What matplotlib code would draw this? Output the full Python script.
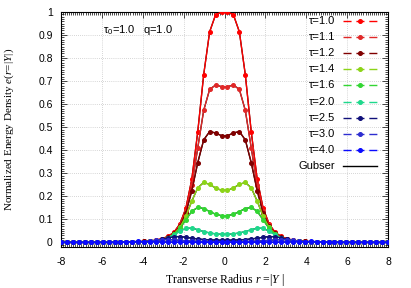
import numpy as np
import matplotlib.pyplot as plt
from matplotlib.ticker import MultipleLocator

plt.rcParams['font.family'] = ['Liberation Sans', 'DejaVu Sans']
plt.rcParams['mathtext.fontset'] = 'custom'
plt.rcParams['mathtext.rm'] = 'Liberation Serif'
plt.rcParams['mathtext.it'] = 'Liberation Serif:italic'
plt.rcParams['mathtext.sf'] = 'Liberation Sans'
plt.rcParams['axes.unicode_minus'] = False

# transverse lattice sites (56 points from -8 to 8)
r = np.linspace(-8, 8, 56)

tau_labels = ['τ=1.0', 'τ=1.1', 'τ=1.2', 'τ=1.4', 'τ=1.6', 'τ=2.0', 'τ=2.5', 'τ=3.0', 'τ=4.0']
colors = ['#ff0000', '#e02828', '#800000', '#8cd418', '#33d633', '#1ed88c', '#10107a', '#2d2dd0', '#0a0aff']

# left to right
e_10 = [0, 0, 0, 0, 0, 0, 0, 0, .001, .001, .001, .002, .002, .003, .004, .006, .010, .016, .026, .044, .080, .148, .274, .480, .728, .914, .988, 1.0,
        1.0, .988, .914, .728, .480, .274, .148, .080, .044, .026, .016, .010, .006, .004, .003, .002, .002, .001, .001, .001, 0, 0, 0, 0, 0, 0, 0, 0]
e_11 = [0, 0, 0, 0, 0, 0, 0, 0, 0, .001, .001, .001, .002, .003, .004, .006, .009, .014, .024, .041, .074, .137, .248, .410, .573, .664, .683, .676,
        .676, .683, .664, .573, .410, .248, .137, .074, .041, .024, .014, .009, .006, .004, .003, .002, .001, .001, .001, 0, 0, 0, 0, 0, 0, 0, 0, 0]
e_12 = [0, 0, 0, 0, 0, 0, 0, 0, 0, 0, .001, .001, .002, .002, .004, .005, .008, .013, .022, .039, .070, .128, .224, .346, .445, .481, .475, .463,
        .463, .475, .481, .445, .346, .224, .128, .070, .039, .022, .013, .008, .005, .004, .002, .002, .001, .001, 0, 0, 0, 0, 0, 0, 0, 0, 0, 0]
e_14 = [0, 0, 0, 0, 0, 0, 0, 0, 0, 0, .001, .001, .002, .002, .003, .005, .008, .012, .021, .036, .065, .113, .179, .237, .260, .252, .236, .226,
        .226, .236, .252, .260, .237, .179, .113, .065, .036, .021, .012, .008, .005, .003, .002, .002, .001, .001, 0, 0, 0, 0, 0, 0, 0, 0, 0, 0]
e_16 = [0, 0, 0, 0, 0, 0, 0, 0, 0, 0, 0, .001, .001, .002, .003, .004, .007, .012, .020, .035, .061, .098, .135, .152, .147, .134, .122, .116,
        .116, .122, .134, .147, .152, .135, .098, .061, .035, .020, .012, .007, .004, .003, .002, .001, .001, 0, 0, 0, 0, 0, 0, 0, 0, 0, 0, 0]
e_20 = [0, 0, 0, 0, 0, 0, 0, 0, 0, 0, 0, .001, .001, .002, .003, .004, .007, .012, .020, .033, .049, .061, .062, .055, .047, .041, .037, .035,
        .035, .037, .041, .047, .055, .062, .061, .049, .033, .020, .012, .007, .004, .003, .002, .001, .001, 0, 0, 0, 0, 0, 0, 0, 0, 0, 0, 0]
e_25 = [0, 0, 0, 0, 0, 0, 0, 0, 0, 0, 0, .0008, .0012, .0018, .0029, .0047, .0079, .0130, .0195, .0246, .0253, .0222, .0182, .0149, .0125, .0109, .0100, .0096,
        .0096, .0100, .0109, .0125, .0149, .0182, .0222, .0253, .0246, .0195, .0130, .0079, .0047, .0029, .0018, .0012, .0008, 0, 0, 0, 0, 0, 0, 0, 0, 0, 0, 0]
e_30 = [0, 0, 0, 0, 0, 0, 0, 0, 0, 0, .0006, .0009, .0014, .0022, .0036, .0058, .0089, .0116, .0123, .0109, .0088, .0069, .0056, .0046, .0040, .0035, .0033, .0032,
        .0032, .0033, .0035, .0040, .0046, .0056, .0069, .0088, .0109, .0123, .0116, .0089, .0058, .0036, .0022, .0014, .0009, .0006, 0, 0, 0, 0, 0, 0, 0, 0, 0, 0]
e_40 = [0, 0, 0, 0, 0, 0, .0002, .0004, .0006, .0010, .0015, .0024, .0034, .0039, .0037, .0030, .0023, .0018, .0013, .0011, .0009, .0008, .0007, .0006, .0006, .0006, .0005, .0005,
        .0005, .0005, .0006, .0006, .0006, .0007, .0008, .0009, .0011, .0013, .0018, .0023, .0030, .0037, .0039, .0034, .0024, .0015, .0010, .0006, .0004, .0002, 0, 0, 0, 0, 0, 0]
series = [e_10, e_11, e_12, e_14, e_16, e_20, e_25, e_30, e_40]

fig = plt.figure(figsize=(4.11, 2.88), dpi=100)
ax = fig.add_axes([61/411, 1-247/288, 327/411, 235/288])

# Gubser curves sit underneath the lattice data
for e in series:
    ax.plot(r, e, color='black', lw=0.9, zorder=2)
for e, c in zip(series, colors):
    ax.plot(r, e, color=c, lw=1.0, marker='o', ms=2.6, mec=c, zorder=3)

ax.set_xlim(-8, 8)
ax.set_ylim(-0.02, 1)
ax.xaxis.set_major_locator(MultipleLocator(2))
ax.xaxis.set_minor_locator(MultipleLocator(0.1))
ax.yaxis.set_major_locator(MultipleLocator(0.1))
ax.yaxis.set_minor_locator(MultipleLocator(0.01))
ax.set_yticks(np.arange(0, 1.01, 0.1))
ax.set_yticklabels(['0', '0.1', '0.2', '0.3', '0.4', '0.5', '0.6', '0.7', '0.8', '0.9', '1'])
ax.tick_params(which='both', direction='in', top=True, right=True, labelsize=7.5, width=0.5)
ax.tick_params(which='major', length=4)
ax.tick_params(which='minor', length=2)
ax.tick_params(axis='x', pad=7)
ax.tick_params(axis='y', pad=6)
ax.grid(True, which='major', color='#b0b0b0', lw=0.5, linestyle=(0, (1, 2)))
for s in ax.spines.values():
    s.set_linewidth(0.8)

ax.set_xlabel('Transverse Radius $r$ =|$Y$ |', fontsize=8.5, family='Liberation Serif')
ax.set_ylabel('Normalized Energy Density $e(r\\!=\\!|Y|)$', fontsize=8, family='Liberation Serif')
ax.xaxis.set_label_coords(0.5, -0.108)
ax.yaxis.set_label_coords(-0.138, 0.5)

ax.text(0.128, 0.955, 'τ$_\\mathsf{0}$=1.0   q=1.0', transform=ax.transAxes, fontsize=8, va='top')

# key: labels right aligned, dashed sample with a point in the middle
y0, dy = 0.963, 0.0689
for i, (lab, c) in enumerate(zip(tau_labels + ['Gubser'], colors + ['black'])):
    y = y0 - i * dy
    ax.text(0.838, y, lab, transform=ax.transAxes, ha='right', va='center', fontsize=8)
    if lab == 'Gubser':
        ax.plot([0.861, 0.965], [y, y], transform=ax.transAxes, color=c, lw=1.0, clip_on=False, zorder=5)
    else:
        ax.plot([0.861, 0.965], [y, y], transform=ax.transAxes, color=c, lw=1.0,
                linestyle=(0, (5.8, 3.5)), clip_on=False, zorder=5)
        ax.plot([0.913], [y], transform=ax.transAxes, color=c, marker='o', ms=2.6, zorder=5)

fig.savefig('out.png', dpi=100)
